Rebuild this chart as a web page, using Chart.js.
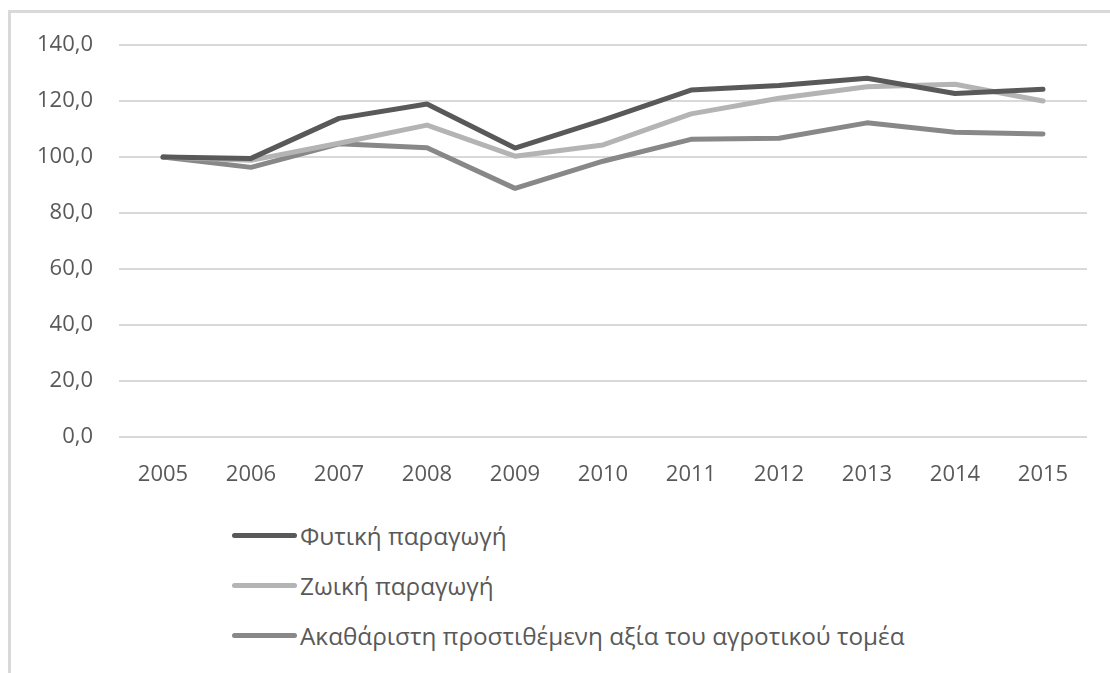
<!DOCTYPE html>
<html>
<head>
<meta charset="utf-8">
<script src="https://cdn.jsdelivr.net/npm/chart.js@4.4.1/dist/chart.umd.min.js"></script>
<style>
	body { margin: 0; background: #fff; width: 1110px; height: 673px; overflow: hidden; position: relative; font-family: "Open Sans", sans-serif; }
	#frame { position: absolute; left: 8px; top: 10px; width: 1110px; height: 700px; border-left: 3px solid #d9d9d9; border-top: 3px solid #d9d9d9; }
	#wrap { position: absolute; left: 0; top: 0; width: 1110px; height: 510px; }
	#legend { position: absolute; left: 232px; top: 510px; }
	.row { height: 50px; display: flex; align-items: center; color: #595959; font-size: 24.3px; }
	.sample { width: 65px; height: 5px; border-radius: 3px; margin-right: 3px; }
</style>
</head>
<body>
<div id="frame"></div>
<div id="wrap"><canvas id="myChart"></canvas></div>
<div id="legend"></div>

<script>
const years = ['2005', '2006', '2007', '2008', '2009', '2010', '2011', '2012', '2013', '2014', '2015'];
const fytiki = [100, 99.5, 113.8, 118.9, 103.2, 113.2, 123.9, 125.5, 128.1, 122.7, 124.2];
const zoiki = [100, 98.8, 104.9, 111.4, 100.3, 104.3, 115.4, 121.0, 125.1, 126.0, 120.0];
const akatharisti = [100, 96.3, 104.7, 103.3, 88.8, 98.5, 106.3, 106.7, 112.2, 108.8, 108.2];
const seriesNames = ['Φυτική παραγωγή', 'Ζωική παραγωγή', 'Ακαθάριστη προστιθέμενη αξία του αγροτικού τομέα'];
const seriesColors = ['#595959', '#b4b4b4', '#888888'];

function serie(label, data, color) {
	return {
		label: label,
		data: data,
		borderColor: color,
		backgroundColor: color,
		borderWidth: 5,
		pointRadius: 0,
		borderCapStyle: 'round',
		borderJoinStyle: 'round',
		tension: 0
	};
}

const ctx = document.getElementById('myChart').getContext('2d');
new Chart(ctx, {
	type: 'line',
	data: {
		labels: years,
		datasets: [
			serie(seriesNames[0], fytiki, seriesColors[0]),
			serie(seriesNames[1], zoiki, seriesColors[1]),
			serie(seriesNames[2], akatharisti, seriesColors[2])
		]
	},
	options: {
		responsive: true,
		maintainAspectRatio: false,
		animation: false,
		layout: { padding: { left: 0, top: 45, right: 23, bottom: 0 } },
		plugins: {
			legend: { display: false },
			tooltip: { enabled: false }
		},
		scales: {
			x: {
				offset: true,
				grid: { display: false },
				border: { display: false },
				ticks: { color: '#595959', font: { family: 'Open Sans', size: 22 }, padding: 17, maxRotation: 0 },
				afterFit: function(axis) { axis.height = 73; }
			},
			y: {
				min: 0,
				max: 140,
				grid: { color: '#d9d9d9', lineWidth: 2, drawTicks: false },
				border: { display: false },
				ticks: {
					stepSize: 20,
					color: '#595959',
					font: { family: 'Open Sans', size: 22 },
					padding: 26,
					callback: function(v) { return v.toFixed(1).replace('.', ','); }
				},
				afterFit: function(axis) { axis.width = 119; }
			}
		}
	}
});

// legenda vertical embaixo
const legend = document.getElementById('legend');
seriesNames.forEach(function(nome, i) {
	legend.insertAdjacentHTML('beforeend',
		'<div class="row"><span class="sample" style="background:' + seriesColors[i] + '"></span><span>' + nome + '</span></div>');
});
</script>
</body>
</html>
